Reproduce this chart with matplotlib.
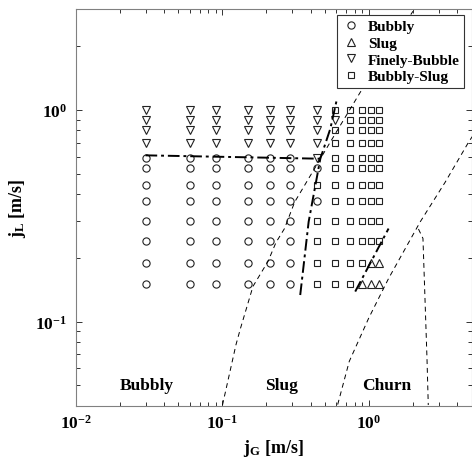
import numpy as np
import matplotlib
matplotlib.use("Agg")
import matplotlib.pyplot as plt
from matplotlib.ticker import LogLocator, FuncFormatter, NullFormatter

plt.rcParams['font.family'] = ['Liberation Serif', 'DejaVu Serif']
plt.rcParams['font.weight'] = 'bold'
plt.rcParams['mathtext.fontset'] = 'custom'
plt.rcParams['mathtext.rm'] = 'Liberation Serif:bold'
plt.rcParams['mathtext.it'] = 'Liberation Serif:bold'
plt.rcParams['mathtext.bf'] = 'Liberation Serif:bold'

# measured points: gas velocity columns, liquid velocity rows
jG = [0.03, 0.06, 0.09, 0.15, 0.21, 0.29, 0.44, 0.59, 0.74, 0.89, 1.03, 1.17]
jL = [1.0, 0.9, 0.8, 0.7, 0.59, 0.53, 0.44, 0.37, 0.30, 0.24, 0.19, 0.15]

# B = Bubbly, S = Slug, F = Finely-Bubble, Q = Bubbly-Slug
regime = [
    "FFFFFFFQQQQQ",
    "FFFFFFFFQQQQ",
    "FFFFFFFQQQQQ",
    "FFFFFFFQQQQQ",
    "BBBBBBFQQQQQ",
    "BBBBBBBQQQQQ",
    "BBBBBBQQQQQQ",
    "BBBBBBBQQQQQ",
    "BBBBBBQQQQQQ",
    "BBBBBBQQQQQQ",
    "BBBBBBQQQQSS",
    "BBBBBBQQQSSS",
]

# transition lines
bs_x = [0.1004, 0.124, 0.1332, 0.162, 0.205, 0.2324, 0.2656, 0.3116, 0.5448, 0.872, 1.994]
bs_y = [0.0403, 0.0776, 0.0929, 0.1466, 0.1923, 0.2363, 0.275, 0.367, 0.7045, 1.2117, 2.926]
sc_x = [0.612, 0.734, 0.995, 1.362, 2.236, 3.31, 4.78, 5.2]
sc_y = [0.0405, 0.0648, 0.1036, 0.16, 0.296, 0.456, 0.705, 0.77]
ca_x = [2.174, 2.333, 2.408, 2.485, 2.536]
ca_y = [0.2736, 0.247, 0.1288, 0.0672, 0.0403]
fb_x = [0.03, 0.466]
fb_y = [0.61, 0.588]
ex_x = [0.34, 0.388, 0.466, 0.545, 0.605]
ex_y = [0.1334, 0.296, 0.588, 0.814, 1.127]
ex2_x = [0.806, 1.36]
ex2_y = [0.1385, 0.275]

styles = {
    "B": ("o", "Bubbly", 5.2),
    "S": ("^", "Slug", 6.0),
    "F": ("v", "Finely-Bubble", 6.0),
    "Q": ("s", "Bubbly-Slug", 4.2),
}

fig = plt.figure(figsize=(4.72, 4.64), dpi=100)
ax = fig.add_axes([0.16, 0.1235, 0.839, 0.855])

for code in ["B", "S", "F", "Q"]:
    mk, lab, ms = styles[code]
    xs, ys = [], []
    for i, row in enumerate(regime):
        for j, c in enumerate(row):
            if c == code:
                xs.append(jG[j])
                ys.append(jL[i])
    ax.plot(xs, ys, ls="none", marker=mk, ms=ms, mfc="white", mec="#222222",
            mew=0.8, label=lab)

dashed = dict(color="black", lw=0.7, ls=(0, (5, 4)))
dashdot = dict(color="black", lw=1.4, ls=(0, (6, 2, 1.5, 2)))
ax.plot(bs_x, bs_y, **dashed)
ax.plot(sc_x, sc_y, **dashed)
ax.plot(ca_x, ca_y, **dashed)
ax.plot(fb_x, fb_y, **dashdot)
ax.plot(ex_x, ex_y, **dashdot)
ax.plot(ex2_x, ex2_y, **dashdot)

ax.text(0.0308, 0.0501, "Bubbly", ha="center", va="center", fontsize=12.5, fontweight="bold")
ax.text(0.255, 0.0501, "Slug", ha="center", va="center", fontsize=12.5, fontweight="bold")
ax.text(1.326, 0.0501, "Churn", ha="center", va="center", fontsize=12.5, fontweight="bold")

ax.set_xscale("log")
ax.set_yscale("log")
ax.set_xlim(0.01, 5)
ax.set_ylim(0.04, 3)

fmt = FuncFormatter(lambda v, p: r"$\mathrm{10^{%d}}$" % round(np.log10(v)))
for axis in (ax.xaxis, ax.yaxis):
    axis.set_major_locator(LogLocator(base=10))
    axis.set_minor_locator(LogLocator(base=10, subs=np.arange(2, 10)))
    axis.set_major_formatter(fmt)
    axis.set_minor_formatter(NullFormatter())

ax.tick_params(which="both", direction="in", top=True, right=True,
               labelsize=12.5, color="#333333", width=0.7)
ax.tick_params(which="major", length=4.5, pad=6)
ax.tick_params(which="minor", length=2.8)
for s in ax.spines.values():
    s.set_color("#808080")
    s.set_linewidth(0.8)

ax.set_xlabel(r"$\mathrm{j_G}$ [m/s]", fontsize=13, fontweight="bold", labelpad=4)
ax.set_ylabel(r"$\mathrm{j_L}$ [m/s]", fontsize=13, fontweight="bold", labelpad=5)

leg = ax.legend(loc="upper right", bbox_to_anchor=(0.982, 0.985), borderaxespad=0,
                fontsize=11, numpoints=1, handlelength=1.2, handletextpad=0.5,
                labelspacing=0.2, borderpad=0.3, fancybox=False, framealpha=1,
                edgecolor="#333333")
leg.get_frame().set_linewidth(0.8)

fig.savefig("out.png", dpi=100)
